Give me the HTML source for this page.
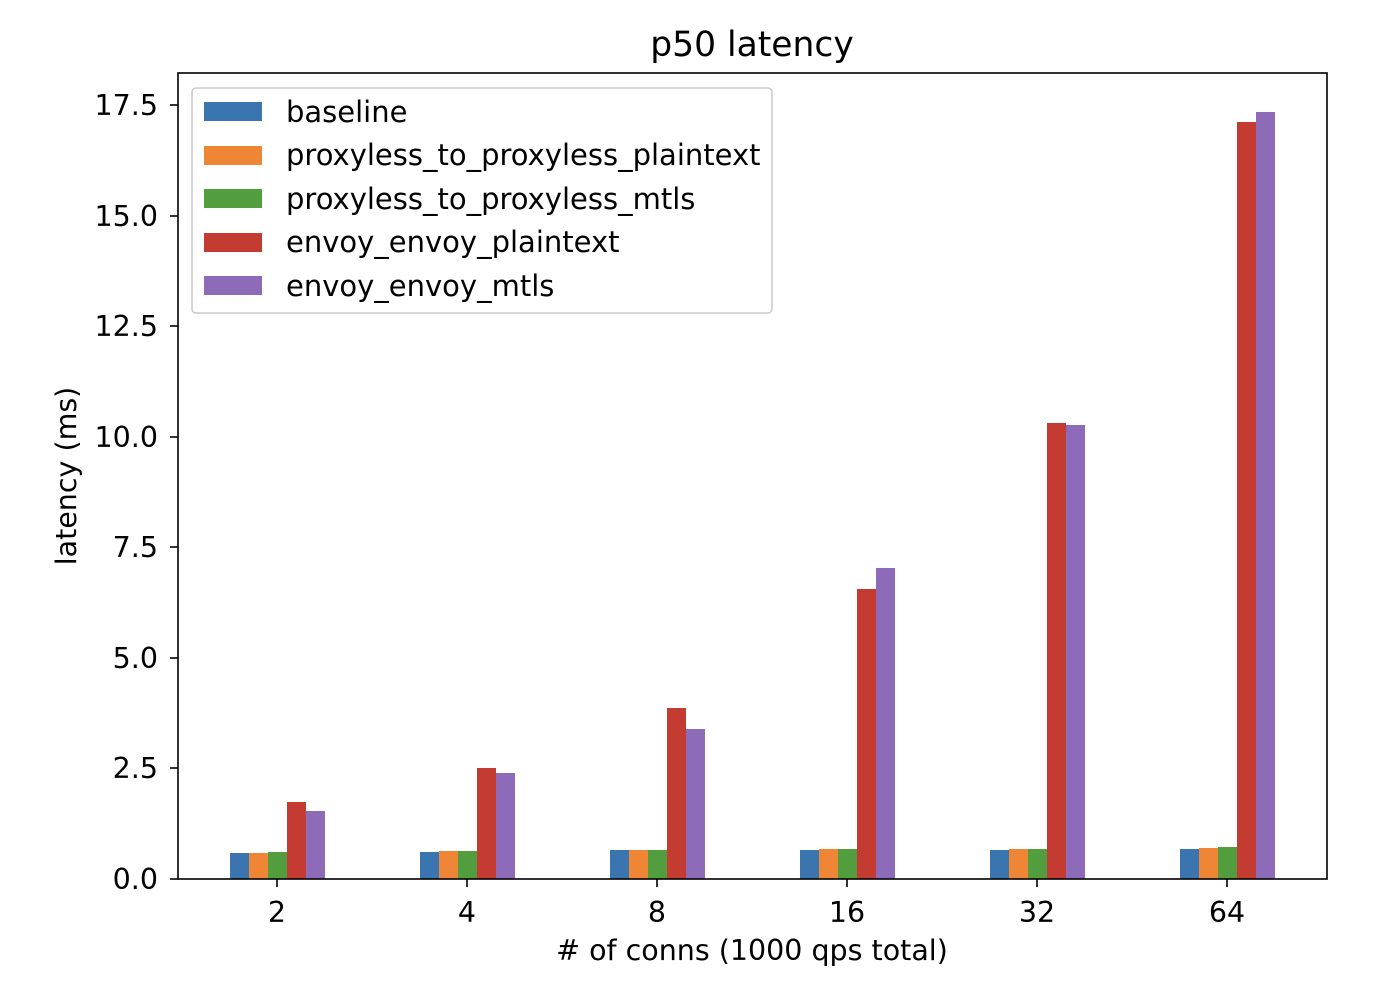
<!DOCTYPE html>
<html><head><meta charset="utf-8"><style>body{margin:0;background:#fff}</style></head><body>
<svg width="1374" height="988" xmlns="http://www.w3.org/2000/svg" font-family="'DejaVu Sans','Liberation Sans',sans-serif" fill="#000">
<rect width="1374" height="988" fill="#fff"/>
<g id="bars">
<rect x="230" y="853" width="19" height="26" fill="#3b75af"/>
<rect x="249" y="853" width="19" height="26" fill="#ef8636"/>
<rect x="268" y="852" width="19" height="27" fill="#529e3e"/>
<rect x="287" y="802" width="19" height="77" fill="#c43b32"/>
<rect x="306" y="811" width="19" height="68" fill="#8d6bb8"/>
<rect x="420" y="852" width="19" height="27" fill="#3b75af"/>
<rect x="439" y="851" width="19" height="28" fill="#ef8636"/>
<rect x="458" y="851" width="19" height="28" fill="#529e3e"/>
<rect x="477" y="768" width="19" height="111" fill="#c43b32"/>
<rect x="496" y="773" width="19" height="106" fill="#8d6bb8"/>
<rect x="610" y="850" width="19" height="29" fill="#3b75af"/>
<rect x="629" y="850" width="19" height="29" fill="#ef8636"/>
<rect x="648" y="850" width="19" height="29" fill="#529e3e"/>
<rect x="667" y="708" width="19" height="171" fill="#c43b32"/>
<rect x="686" y="729" width="19" height="150" fill="#8d6bb8"/>
<rect x="800" y="850" width="19" height="29" fill="#3b75af"/>
<rect x="819" y="849" width="19" height="30" fill="#ef8636"/>
<rect x="838" y="849" width="19" height="30" fill="#529e3e"/>
<rect x="857" y="589" width="19" height="290" fill="#c43b32"/>
<rect x="876" y="568" width="19" height="311" fill="#8d6bb8"/>
<rect x="990" y="850" width="19" height="29" fill="#3b75af"/>
<rect x="1009" y="849" width="19" height="30" fill="#ef8636"/>
<rect x="1028" y="849" width="19" height="30" fill="#529e3e"/>
<rect x="1047" y="423" width="19" height="456" fill="#c43b32"/>
<rect x="1066" y="425" width="19" height="454" fill="#8d6bb8"/>
<rect x="1180" y="849" width="19" height="30" fill="#3b75af"/>
<rect x="1199" y="848" width="19" height="31" fill="#ef8636"/>
<rect x="1218" y="847" width="19" height="32" fill="#529e3e"/>
<rect x="1237" y="122" width="19" height="757" fill="#c43b32"/>
<rect x="1256" y="112" width="19" height="767" fill="#8d6bb8"/>
</g>
<rect x="178" y="73" width="1149" height="806" fill="none" stroke="#000" stroke-width="1.6"/>
<g stroke="#000" stroke-width="1.6">
<line x1="170" y1="879" x2="178" y2="879"/><line x1="170" y1="768" x2="178" y2="768"/>
<line x1="170" y1="658" x2="178" y2="658"/><line x1="170" y1="547" x2="178" y2="547"/>
<line x1="170" y1="437" x2="178" y2="437"/><line x1="170" y1="326" x2="178" y2="326"/>
<line x1="170" y1="216" x2="178" y2="216"/><line x1="170" y1="105" x2="178" y2="105"/>
<line x1="277" y1="879" x2="277" y2="887"/><line x1="467" y1="879" x2="467" y2="887"/>
<line x1="657" y1="879" x2="657" y2="887"/><line x1="847" y1="879" x2="847" y2="887"/>
<line x1="1037" y1="879" x2="1037" y2="887"/><line x1="1227" y1="879" x2="1227" y2="887"/>
</g>
<g font-size="28.5" text-anchor="end">
<text x="158" y="889">0.0</text><text x="158" y="778">2.5</text><text x="158" y="668">5.0</text>
<text x="158" y="557">7.5</text><text x="158" y="447">10.0</text><text x="158" y="336">12.5</text>
<text x="158" y="226">15.0</text><text x="158" y="115">17.5</text>
</g>
<g font-size="28.5" text-anchor="middle">
<text x="277" y="922">2</text><text x="467" y="922">4</text><text x="657" y="922">8</text>
<text x="847" y="922">16</text><text x="1037" y="922">32</text><text x="1227" y="922">64</text>
<text x="752" y="960"># of conns (1000 qps total)</text>
<text transform="translate(76,476) rotate(-90)">latency (ms)</text>
<text x="752" y="56" font-size="34.5">p50 latency</text>
</g>
<rect x="192" y="88" width="580" height="225" rx="4" fill="#fff" fill-opacity="0.8" stroke="#ccc" stroke-width="1.6"/>
<rect x="204" y="102" width="58" height="19" fill="#3b75af"/>
<rect x="204" y="146" width="58" height="19" fill="#ef8636"/>
<rect x="204" y="189" width="58" height="19" fill="#529e3e"/>
<rect x="204" y="233" width="58" height="19" fill="#c43b32"/>
<rect x="204" y="276" width="58" height="19" fill="#8d6bb8"/>
<g font-size="29">
<text x="286" y="122">baseline</text>
<text x="286" y="165">proxyless_to_proxyless_plaintext</text>
<text x="286" y="209">proxyless_to_proxyless_mtls</text>
<text x="286" y="252">envoy_envoy_plaintext</text>
<text x="286" y="296">envoy_envoy_mtls</text>
</g>
</svg>
</body></html>
